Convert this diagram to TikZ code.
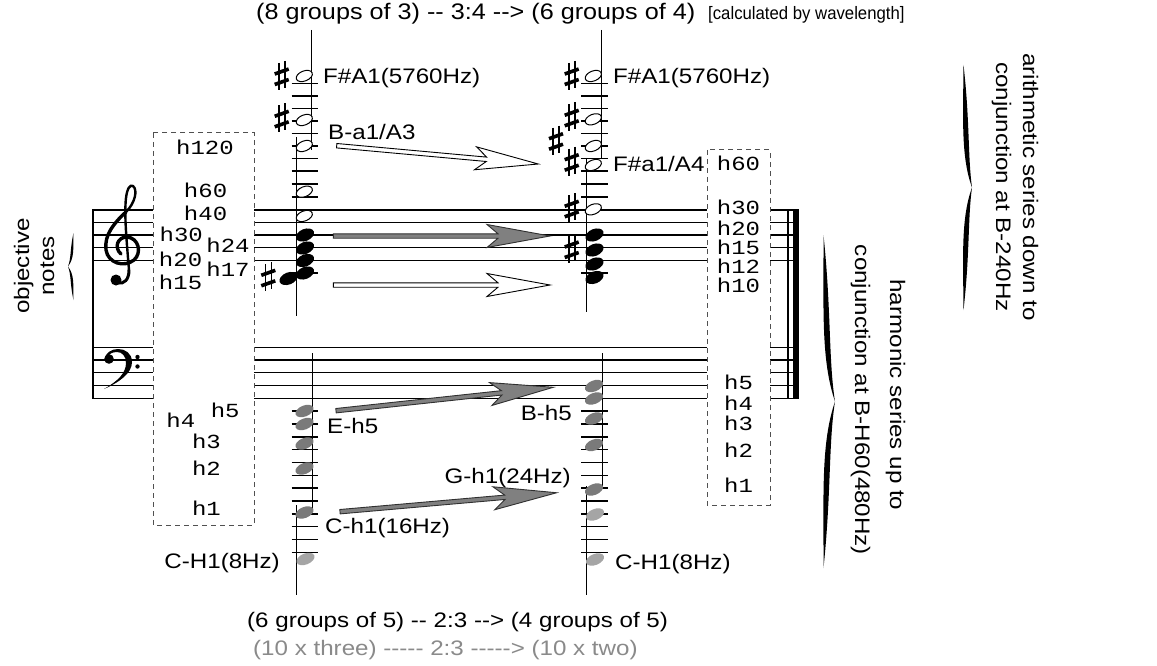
\documentclass[tikz,border=0pt]{standalone}
\usepackage{fontspec}
\newfontfamily\sansf{Liberation Sans}[FakeStretch=1.15]
\newfontfamily\titlef{Liberation Sans}[FakeStretch=1.12]
\newfontfamily\narrowf{Liberation Sans}[FakeStretch=0.93]
\newfontfamily\monof{Liberation Mono}[FakeStretch=1.2]
\definecolor{notegray}{HTML}{7A7A7A}
\definecolor{lightnote}{HTML}{A5A5A5}
\definecolor{arrgray}{HTML}{808080}
\definecolor{arrdark}{HTML}{303030}
\definecolor{boxgray}{HTML}{505050}
\definecolor{textgray}{HTML}{8A8A8A}
\tikzset{
 mysharp/.pic={
   \draw[line width=1.6] (-3,-14) -- (-3,13);
   \draw[line width=1.6] (3,-16) -- (3,11);
   \draw[line width=3.6] (-7,-3) -- (7,-8);
   \draw[line width=3.6] (-7,7.5) -- (7,2.5);
 },
 bigarr/.pic={
   \filldraw[pic actions] (0,-2.2) -- ({#1-52},-2.2) -- ({#1-63},-11.5) -- (#1,0) -- ({#1-63},11.5) -- ({#1-52},2.2) -- (0,2.2) -- cycle;
 }
}
\newcommand\nhead[5]{\path[#3, rotate around={22:(#1,#2)}] (#1,#2) ellipse [x radius=#4, y radius=#5];}
\newcommand\mybrace[5]{%
\pgfmathsetmacro\zbM{(#2+#3)/2}\pgfmathsetmacro\zbH{(#3-#2)/2}%
\pgfmathsetmacro\zpA{#1+0.35*#4+#5}\pgfmathsetmacro\zpB{#1+0.1*#4+#5}%
\pgfmathsetmacro\zqA{#1+0.35*#4-#5}\pgfmathsetmacro\zqB{#1+0.1*#4-#5}%
\pgfmathsetmacro\zcX{#1+#4}%
\pgfmathsetmacro\zyA{#2+0.45*\zbH}\pgfmathsetmacro\zyB{\zbM-0.25*\zbH}%
\pgfmathsetmacro\zyC{\zbM+0.25*\zbH}\pgfmathsetmacro\zyD{#3-0.45*\zbH}%
\fill (#1,#2) .. controls (\zpA,\zyA) and (\zpB,\zyB) .. (\zcX,\zbM) .. controls (\zpB,\zyC) and (\zpA,\zyD) .. (#1,#3) .. controls (\zqA,\zyD) and (\zqB,\zyC) .. (\zcX,\zbM) .. controls (\zqB,\zyB) and (\zqA,\zyA) .. (#1,#2) -- cycle;}
\begin{document}
\begin{tikzpicture}[x=1pt,y=-1pt,
  lbl/.style={font=\sansf\fontsize{21}{25}\selectfont, inner sep=0pt},
  rlbl/.style={font=\sansf\fontsize{21}{25}\selectfont, inner sep=0pt, anchor=base},
  mono/.style={font=\monof\fontsize{20}{22}\selectfont, inner sep=0pt, anchor=base},
  staff/.style={line width=1.2},
  ledger/.style={line width=1.5},
  stem/.style={line width=1.5},
  hollow/.style={draw=black, fill=white, line width=1},
  blk/.style={fill=black},
  gnote/.style={fill=notegray},
  lnote/.style={fill=lightnote},
  box/.style={draw=boxgray, dash pattern=on 5pt off 4pt, line width=1},
  harr/.style={fill=white, draw=black, line width=0.9},
  garr/.style={fill=arrgray, draw=arrdark, line width=0.9}
]
\fill[white] (0,0) rectangle (1157,666);
\useasboundingbox (0,0) rectangle (1157,666);

% staves
\foreach \yy in {210,222.7,235,247.7,260.3,347.5,360,372.7,385.5,398.5}
  \draw[staff] (93,\yy) -- (153,\yy) (254,\yy) -- (707,\yy) (770,\yy) -- (798,\yy);
\draw[line width=2.2] (93,209.4) -- (93,399.1);
\draw[line width=1.2] (788,209.5) -- (788,399);
\fill (793,209.4) rectangle (798.5,399.1);

% dashed boxes
\draw[box] (153,133) rectangle (254,525);
\draw[box] (707,150) rectangle (770,505);

% clefs
\draw[line width=3, line cap=round] (129,270) .. controls (129,280) and (124,284) .. (118,283);
\draw[line width=2.4, line cap=round] (129,270) .. controls (127,245) and (124,215) .. (126,198) .. controls (127,189) and (130,184) .. (133,186) .. controls (138,190) and (135,203) .. (126,212);
\draw[line width=3.4, line cap=round] (126,212) .. controls (114,223) and (104,235) .. (106,250) .. controls (108,263) and (124,268) .. (134,260) .. controls (142,253) and (139,238) .. (127,237) .. controls (117,237) and (114,248) .. (121,254);
\fill (116,280) circle (5.5);
\fill (104,389) .. controls (120,382) and (132,373) .. (132,362) .. controls (132,353) and (125,349) .. (118,349) .. controls (111,349) and (106,353) .. (105,358) -- (107,358) .. controls (109,354) and (112,352) .. (117,352) .. controls (122,352) and (126,356) .. (126,363) .. controls (126,373) and (118,381) .. (104,389) -- cycle;
\fill (109,359) circle (4.8);
\fill (137.5,357) circle (2.2);
\fill (137.5,366.5) circle (2.2);

% ledger lines (upper)
\foreach \yy in {83.5,96,108.5,121,133.5,146,158.5,171,184,197,273}
  \draw[ledger] (291.7,\yy) -- (318.3,\yy) (581,\yy) -- (607.5,\yy);
% ledger lines (lower)
\foreach \yy in {411,424,436.8,449.6,462.4,475.3,488.1,501,513.8,526.7,539.5,552.4}
  \draw[ledger] (291.7,\yy) -- (318.3,\yy) (581,\yy) -- (607.5,\yy);

% stems
\draw[stem] (311.7,30) -- (311.7,150);
\draw[stem] (296.7,137) -- (296.7,316);
\draw[stem] (601.7,30) -- (601.7,158);
\draw[stem] (586.7,158) -- (586.7,312);
\draw[stem] (312.7,353) -- (312.7,512);
\draw[stem] (296.7,505) -- (296.7,595);
\draw[stem] (602.3,353) -- (602.3,487);
\draw[stem] (586.7,486) -- (586.7,595);

% upper hollow notes
\foreach \yy in {76,120,146,191.7,216} {\nhead{304.3}{\yy}{hollow}{8.5}{5}}
\foreach \yy in {76,119.3,146,165,209.3} {\nhead{593.3}{\yy}{hollow}{8.5}{5}}
% black notes
\foreach \yy in {235,248,260.5,273} {\nhead{305}{\yy}{blk}{9.5}{6}}
\nhead{288.5}{278.5}{blk}{9.5}{6}
\foreach \yy in {235,250,264,277.5} {\nhead{594.5}{\yy}{blk}{9.5}{6}}
% gray notes
\foreach \yy in {411,424,443.5,468.5,512.5} {\nhead{304.5}{\yy}{gnote}{9.5}{5.5}}
\nhead{305.5}{559}{lnote}{9.5}{5.5}
\foreach \yy in {386,398.5,418.5,445,489.5} {\nhead{594}{\yy}{gnote}{9.5}{5.5}}
\nhead{595}{514.5}{lnote}{9.5}{5.5}
\nhead{595}{559.5}{lnote}{9.5}{5.5}

% sharps
\pic at (281.7,77) {mysharp};
\pic at (281.7,119.3) {mysharp};
\pic at (268.3,278.3) {mysharp};
\pic at (571.7,77) {mysharp};
\pic at (571.7,118.3) {mysharp};
\pic at (556,141.7) {mysharp};
\pic at (571.7,162.7) {mysharp};
\pic at (571.7,209.3) {mysharp};
\pic at (571.7,250) {mysharp};

% big arrows
\pic[harr, rotate=-5.19] at (336.7,145.7) {bigarr=202.4};
\pic[garr] at (333.3,236) {bigarr=216.7};
\pic[harr] at (333.3,285) {bigarr=216.7};
\pic[garr, rotate=6.15] at (336,410.7) {bigarr=218.6};
\pic[garr, rotate=5.0] at (340,511.7) {bigarr=217.5};

% braces
\mybrace{963.5}{65}{310}{8.5}{3.4}
\mybrace{823.5}{235}{568}{11.5}{3.8}
\mybrace{73.5}{233}{300}{-5.5}{1.6}

% texts
\node[anchor=base west, inner sep=0pt, font=\titlef\fontsize{22.5}{26}\selectfont] (title) at (256,20) {(8 groups of 3) -- 3:4 --> (6 groups of 4)};
\node[anchor=base west, inner sep=0pt, font=\narrowf\fontsize{18}{20}\selectfont] (calc) at (708,20) {[calculated by wavelength]};
\node[lbl, anchor=base west] (bot1) at (247,627) {(6 groups of 5) -- 2:3 --> (4 groups of 5)};
\node[lbl, anchor=base west, text=textgray] (bot2) at (253,655) {(10 x three) ----- 2:3 -----> (10 x two)};

\node[lbl, anchor=base west] (fa1) at (323,84) {F\#A1(5760Hz)};
\node[lbl, anchor=base west] (fa2) at (613,84) {F\#A1(5760Hz)};
\node[lbl, anchor=base west] (ba1) at (328,140) {B-a1/A3};
\node[lbl, anchor=base west] (fa4) at (613,171.7) {F\#a1/A4};
\node[lbl, anchor=base west] (eh5) at (327,433) {E-h5};
\node[lbl, anchor=base east] (bh5) at (572,420) {B-h5};
\node[lbl, anchor=base east] (gh1) at (571,483) {G-h1(24Hz)};
\node[lbl, anchor=base west] (ch1) at (325,533) {C-h1(16Hz)};
\node[lbl, anchor=base east] (cH1a) at (280,568) {C-H1(8Hz)};
\node[lbl, anchor=base west] (cH1b) at (615,569) {C-H1(8Hz)};

\node[rlbl, rotate=90] (obj) at (29,266) {objective};
\node[rlbl, rotate=90] (notes) at (54,266) {notes};
\node[rlbl, rotate=-90] (ar1) at (1023,187) {arithmetic series down to};
\node[rlbl, rotate=-90] (ar2) at (996,187) {conjunction at B-240Hz};
\node[rlbl, rotate=-90] (hm1) at (890,395) {harmonic series up to};
\node[rlbl, rotate=-90] (hm2) at (855,400) {conjunction at B-H60(480Hz)};

% mono labels left box
\node[mono] (l120) at (205,155) {h120};
\node[mono] (l60) at (205.6,197) {h60};
\node[mono] (l40) at (205.6,220) {h40};
\node[mono] (l30) at (181.3,241.7) {h30};
\node[mono] (l20) at (180.6,266.7) {h20};
\node[mono] (l15) at (180.6,289) {h15};
\node[mono] (l24) at (228,252.7) {h24};
\node[mono] (l17) at (228,276.7) {h17};
\node[mono] (l5) at (225.2,417.7) {h5};
\node[mono] (l4) at (180.9,427.7) {h4};
\node[mono] (l3) at (206.5,448.3) {h3};
\node[mono] (l2) at (206.5,475.7) {h2};
\node[mono] (l1) at (206.5,515) {h1};
% mono labels right box
\node[mono] (r60) at (738.5,171) {h60};
\node[mono] (r30) at (738.5,214.5) {h30};
\node[mono] (r20) at (738.5,235.5) {h20};
\node[mono] (r15) at (738.5,254.5) {h15};
\node[mono] (r12) at (738.5,273.5) {h12};
\node[mono] (r10) at (738.5,292.5) {h10};
\node[mono] (r5) at (738.5,389.3) {h5};
\node[mono] (r4) at (738.5,410) {h4};
\node[mono] (r3) at (738.5,430.7) {h3};
\node[mono] (r2) at (738.5,457.7) {h2};
\node[mono] (r1) at (738.5,492.3) {h1};
\end{tikzpicture}
\end{document}
